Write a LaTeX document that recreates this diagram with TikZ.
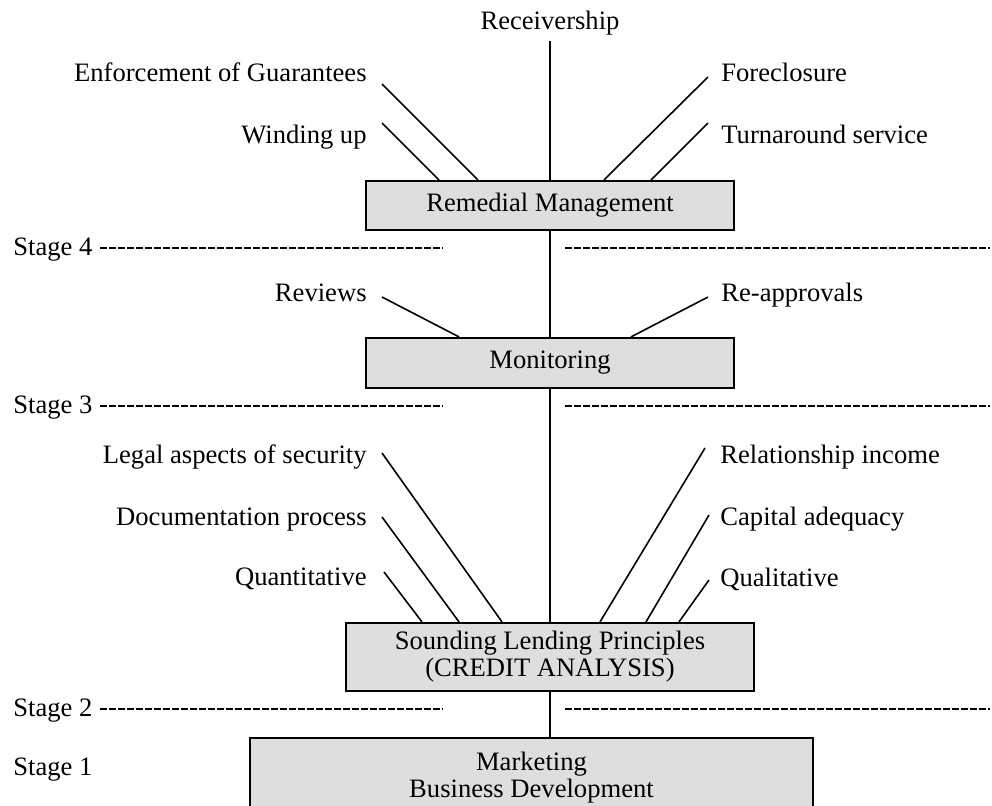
\documentclass[tikz,border=0pt]{standalone}
\usepackage{fontspec}
\setmainfont{Liberation Serif}
\usepackage{tikz}
\definecolor{cajagris}{RGB}{222,222,222}

\begin{document}
\begin{tikzpicture}[x=0.5pt,y=-0.5pt,
    font=\fontsize{13.3}{13.5}\selectfont,
    caja/.style={draw,fill=cajagris,line width=1.1pt,inner sep=0pt,align=center},
    etiq/.style={inner sep=0pt},
    eje/.style={line width=1pt},
    rama/.style={line width=0.8pt},
    etapa/.style={line width=0.55pt,dash pattern=on 3.3pt off 1.2pt}]
      \useasboundingbox (0,0) rectangle (992,805);
      % Cajas
      \node[caja,minimum width=184pt,minimum height=24.5pt] (rem) at (550,205.5) {Remedial Management};
      \node[caja,minimum width=184pt,minimum height=25pt] (mon) at (550,363) {Monitoring};
      \node[caja,minimum width=204pt,minimum height=34pt] (slp) at (550,657) {Sounding Lending Principles\\(CREDIT ANALYSIS)};
      \node[caja,minimum width=281.5pt,minimum height=40pt] (mkt) at (531.5,778) {Marketing\\Business Development};
      % Etiquetas
      \node[inner sep=3pt,anchor=base] (rec) at (550,29) {Receivership};
      \node[etiq,anchor=base east] (enf) at (367,81) {Enforcement of Guarantees};
      \node[etiq,anchor=base east] (win) at (367,143) {Winding up};
      \node[etiq,anchor=base west] (for) at (721,81) {Foreclosure};
      \node[etiq,anchor=base west] (tur) at (721,143) {Turnaround service};
      \node[etiq,anchor=base east] (rev) at (367,301) {Reviews};
      \node[etiq,anchor=base west] (rea) at (721,301) {Re-approvals};
      \node[etiq,anchor=base east] (leg) at (367,463) {Legal aspects of security};
      \node[etiq,anchor=base east] (doc) at (367,525) {Documentation process};
      \node[etiq,anchor=base east] (qua) at (367,585) {Quantitative};
      \node[etiq,anchor=base west] (rel) at (720,463) {Relationship income};
      \node[etiq,anchor=base west] (cap) at (720,525) {Capital adequacy};
      \node[etiq,anchor=base west] (qul) at (720,586) {Qualitative};
      % Etapas
      \node[etiq,anchor=base west] (s4) at (13,255) {Stage 4};
      \node[etiq,anchor=base west] (s3) at (13,413) {Stage 3};
      \node[etiq,anchor=base west] (s2) at (13,716) {Stage 2};
      \node[etiq,anchor=base west] (s1) at (13,775) {Stage 1};
      \coordinate (s4a) at (100,248);
      \coordinate (s4b) at (443,248);
      \coordinate (s4c) at (565,248);
      \coordinate (s4d) at (990,248);
      \coordinate (s3a) at (100,406);
      \coordinate (s3b) at (443,406);
      \coordinate (s3c) at (565,406);
      \coordinate (s3d) at (990,406);
      \coordinate (s2a) at (100,709);
      \coordinate (s2b) at (443,709);
      \coordinate (s2c) at (565,709);
      \coordinate (s2d) at (990,709);
      \draw[etapa] (s4a) -- (s4b);
      \draw[etapa] (s4c) -- (s4d);
      \draw[etapa] (s3a) -- (s3b);
      \draw[etapa] (s3c) -- (s3d);
      \draw[etapa] (s2a) -- (s2b);
      \draw[etapa] (s2c) -- (s2d);
      % Eje central
      \draw[eje] (rec.south) -- (rem.north);
      \draw[eje] (rem.south) -- (mon.north);
      \draw[eje] (mon.south) -- (slp.north);
      \draw[eje] (slp.south) -- (slp.south |- mkt.north);
      % Ramas
      \coordinate (enf1) at (382,84);
      \coordinate (win1) at (382,123);
      \coordinate (for1) at (708,77);
      \coordinate (tur1) at (708,123);
      \coordinate (rev1) at (382,297);
      \coordinate (rea1) at (708,297);
      \coordinate (leg1) at (382,453);
      \coordinate (doc1) at (382,517);
      \coordinate (qua1) at (384,572);
      \coordinate (rel1) at (705,448);
      \coordinate (cap1) at (709,515);
      \coordinate (qul1) at (709,580);
      \draw[rama] (enf1) -- (478,0 |- rem.north);
      \draw[rama] (win1) -- (439,0 |- rem.north);
      \draw[rama] (for1) -- (604,0 |- rem.north);
      \draw[rama] (tur1) -- (651,0 |- rem.north);
      \draw[rama] (rev1) -- (459,0 |- mon.north);
      \draw[rama] (rea1) -- (631,0 |- mon.north);
      \draw[rama] (leg1) -- (502,0 |- slp.north);
      \draw[rama] (doc1) -- (459,0 |- slp.north);
      \draw[rama] (qua1) -- (422,0 |- slp.north);
      \draw[rama] (rel1) -- (600,0 |- slp.north);
      \draw[rama] (cap1) -- (646,0 |- slp.north);
      \draw[rama] (qul1) -- (679,0 |- slp.north);
    \end{tikzpicture}
\end{document}
